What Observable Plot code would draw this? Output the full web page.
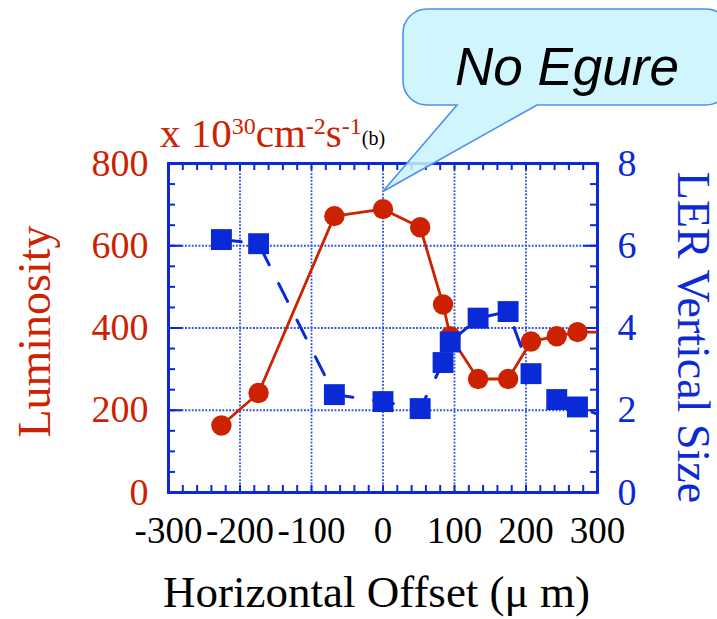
<!DOCTYPE html>
<html>
<head>
<meta charset="utf-8">
<script src="https://cdn.jsdelivr.net/npm/d3@7"></script>
<script src="https://cdn.jsdelivr.net/npm/@observablehq/plot@0.6"></script>
<style>
  body { margin: 0; background: #fff; }
</style>
</head>
<body>
<div id="chart"></div>
<script>
// Horizontal beam offset scan (µm); the last point lies just past the axis edge
const offsets    = [-226, -174, -68, 0, 52, 84, 94, 133, 175, 207, 243, 272, 320];
// Luminosity, x 10^30 cm^-2 s^-1 (left axis)
const luminosity = [163, 242, 672, 689, 645, 457, 380, 276, 276, 367, 380, 390, 390];
// LER vertical beam size (right axis)
const lerSize    = [6.15, 6.05, 2.38, 2.21, 2.04, 3.16, 3.66, 4.24, 4.40, 2.89, 2.26, 2.08, 1.78];

const offsetTicks = [-300, -200, -100, 0, 100, 200, 300];
const lumTicks    = [0, 200, 400, 600, 800];
const sizeTicks   = [0, 2, 4, 6, 8];

const W = 717, H = 619;
const mL = 168, mR = 120, mT = 163, mB = 127;
const frameW = W - mL - mR;
const frameH = H - mT - mB;
const RED = "#cc2200", BLUE = "#0a2ad8", GRID = "#2a4de0";

// the right axis (0–8) shares the left y scale (0–800)
const sizeToLum = v => v * 100;

const lumRows  = offsets.map((x, i) => ({x, y: luminosity[i]}));
const sizeRows = offsets.map((x, i) => ({x, y: sizeToLum(lerSize[i])}));

const minorX = d3.range(-300, 301, 20);
const minorY = d3.range(0, 801, 50);
const tick = {stroke: BLUE, strokeWidth: 2};
const grid = {stroke: GRID, strokeOpacity: 1, strokeWidth: 1.8, strokeDasharray: "1.8,1.6"};

const plot = Plot.plot({
  width: W, height: H,
  marginLeft: mL, marginRight: mR, marginTop: mT, marginBottom: mB,
  style: {fontFamily: "Liberation Serif", background: "#fff"},
  x: {domain: [-300, 300]},
  y: {domain: [0, 800]},
  marks: [
    Plot.gridX(offsetTicks.slice(1, -1), grid),
    Plot.gridY(lumTicks.slice(1, -1), grid),
    // inward ticks on all four sides
    Plot.tickX(minorX, {x: d => d, insetTop: frameH - 7, ...tick}),
    Plot.tickX(minorX, {x: d => d, insetBottom: frameH - 7, ...tick}),
    Plot.tickY(minorY, {y: d => d, insetRight: frameW - 7, ...tick}),
    Plot.tickY(minorY, {y: d => d, insetLeft: frameW - 7, ...tick}),
    Plot.tickY(lumTicks, {y: d => d, insetRight: frameW - 14, ...tick}),
    Plot.tickY(lumTicks, {y: d => d, insetLeft: frameW - 14, ...tick}),
    Plot.frame({stroke: BLUE, strokeWidth: 3}),
    Plot.axisY(lumTicks, {anchor: "left", tickSize: 0, tickPadding: 20, color: RED, fontSize: 38, label: null}),
    Plot.axisY(sizeTicks.map(sizeToLum), {anchor: "right", tickSize: 0, tickPadding: 20, color: BLUE, fontSize: 38, label: null, tickFormat: d => String(d / 100)}),
    Plot.axisX(offsetTicks, {anchor: "bottom", tickSize: 0, tickPadding: 24, color: "#000", fontSize: 37, label: null, tickFormat: d => String(d)}),
    // luminosity: solid red line with filled circles
    Plot.line(lumRows, {x: "x", y: "y", stroke: RED, strokeWidth: 2.8, clip: "frame"}),
    Plot.dot(lumRows, {x: "x", y: "y", r: 10.2, fill: RED, clip: "frame"}),
    // beam size: dashed blue line with filled squares
    Plot.line(sizeRows, {x: "x", y: "y", stroke: BLUE, strokeWidth: 3, strokeDasharray: "20,21", clip: "frame"}),
    Plot.dot(sizeRows, {x: "x", y: "y", r: 11.8, symbol: "square", fill: BLUE, clip: "frame"})
  ]
});

document.getElementById("chart").appendChild(plot);

const svg = d3.select(plot);
const xs = plot.scale("x"), ys = plot.scale("y");
const midY = (mT + H - mB) / 2;

// axis titles
svg.append("text")
  .attr("transform", `translate(34,${midY + 4}) rotate(-90)`)
  .attr("text-anchor", "middle").attr("dominant-baseline", "central")
  .attr("font-family", "Liberation Serif").attr("font-size", 46).attr("fill", RED)
  .text("Luminosity");
svg.append("text")
  .attr("transform", `translate(693,${midY + 10}) rotate(90)`)
  .attr("text-anchor", "middle").attr("dominant-baseline", "central")
  .attr("font-family", "Liberation Serif").attr("font-size", 46).attr("fill", BLUE)
  .text("LER Vertical Size");
svg.append("text")
  .attr("x", xs.apply(0) - 6).attr("y", 607)
  .attr("text-anchor", "middle")
  .attr("font-family", "Liberation Serif").attr("font-size", 45).attr("fill", "#000")
  .text("Horizontal Offset (\u03bc m)");

// unit label above the frame
const unit = svg.append("text")
  .attr("x", 160).attr("y", 147).attr("text-anchor", "start")
  .attr("font-family", "Liberation Serif").attr("font-size", 41).attr("fill", RED);
unit.append("tspan").text("x 10");
unit.append("tspan").attr("font-size", 24).attr("dy", -13).text("30");
unit.append("tspan").attr("dy", 13).text("cm");
unit.append("tspan").attr("font-size", 24).attr("dy", -13).text("-2");
unit.append("tspan").attr("dy", 13).text("s");
unit.append("tspan").attr("font-size", 24).attr("dy", -13).text("-1");
unit.append("tspan").attr("dy", 11).attr("font-size", 20).attr("fill", "#000").text("(b)");

// speech-bubble callout pointing at the peak
const tipX = xs.apply(0), tipY = ys.apply(730);
const L = 403, T = 9, R = 730, B = 105, rr = 24;
const bubble = d3.path();
bubble.moveTo(L + rr, T);
bubble.lineTo(R - rr, T);
bubble.arcTo(R, T, R, T + rr, rr);
bubble.lineTo(R, B - rr);
bubble.arcTo(R, B, R - rr, B, rr);
bubble.lineTo(537, B);
bubble.lineTo(tipX, tipY);
bubble.lineTo(457, B);
bubble.lineTo(L + rr, B);
bubble.arcTo(L, B, L, B - rr, rr);
bubble.lineTo(L, T + rr);
bubble.arcTo(L, T, L + rr, T, rr);
bubble.closePath();
svg.append("path")
  .attr("d", bubble.toString())
  .attr("fill", "#c9f3fd").attr("fill-opacity", 0.85)
  .attr("stroke", "#4f8ff0").attr("stroke-width", 1.6);
svg.append("text")
  .attr("x", 567).attr("y", 85)
  .attr("text-anchor", "middle")
  .attr("font-family", "Liberation Sans").attr("font-style", "italic")
  .attr("font-size", 53).attr("fill", "#000")
  .text("No Egure");
</script>
</body>
</html>
